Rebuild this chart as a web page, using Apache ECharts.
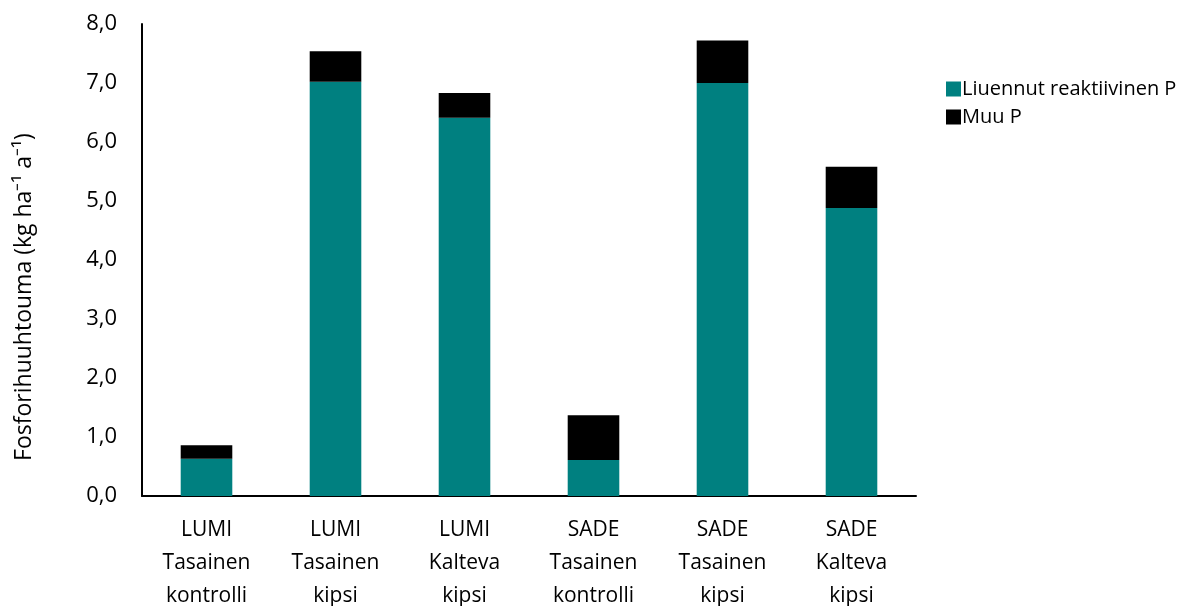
<!DOCTYPE html>
<html>
<head>
<meta charset="utf-8">
<script src="https://cdn.jsdelivr.net/npm/echarts@6/dist/echarts.min.js"></script>
<style>
  html, body { margin: 0; padding: 0; background: #fff; }
  #chart { width: 1194px; height: 606px; }
</style>
</head>
<body>
<div id="chart"></div>
<script>
// Phosphorus losses per treatment, kg/ha/a
const seasons = ['LUMI', 'LUMI', 'LUMI', 'SADE', 'SADE', 'SADE'];
const slopes = ['Tasainen', 'Tasainen', 'Kalteva', 'Tasainen', 'Tasainen', 'Kalteva'];
const treatments = ['kontrolli', 'kipsi', 'kipsi', 'kontrolli', 'kipsi', 'kipsi'];
const dissolvedP = [0.63, 7.02, 6.41, 0.61, 7.00, 4.88];
const otherP = [0.23, 0.52, 0.42, 0.76, 0.72, 0.70];
const seriesNames = ['Liuennut reaktiivinen P', 'Muu P'];
const yTicks = [0, 1, 2, 3, 4, 5, 6, 7, 8];
const yTitle = 'Fosforihuuhtouma (kg ha\u207B\u00B9 a\u207B\u00B9)';

const categories = seasons.map((s, i) => s + '\n' + slopes[i] + '\n' + treatments[i]);
const font = '"Open Sans", "Liberation Sans", sans-serif';

const chart = echarts.init(document.getElementById('chart'));
chart.setOption({
  animation: false,
  textStyle: { fontFamily: font, color: '#000' },
  grid: {
    left: 142, right: 278, top: 24, bottom: 110,
    containLabel: false,
    outerBoundsMode: 'none'
  },
  graphic: [{
    type: 'text',
    x: 24,
    y: 297,
    rotation: Math.PI / 2,
    style: {
      text: yTitle,
      fontFamily: font,
      fontSize: 23,
      fill: '#000',
      align: 'center',
      verticalAlign: 'middle'
    }
  }],
  legend: {
    orient: 'vertical',
    left: 941,
    top: 74,
    itemWidth: 15,
    itemHeight: 15,
    itemGap: 8,
    icon: 'rect',
    textStyle: { fontFamily: font, fontSize: 20, color: '#000', padding: [0, 0, 0, -4] },
    data: seriesNames
  },
  xAxis: {
    type: 'category',
    data: categories,
    axisLine: { lineStyle: { color: '#000', width: 2 } },
    axisTick: { show: false },
    axisLabel: {
      interval: 0,
      margin: 18,
      fontSize: 21,
      lineHeight: 33,
      color: '#000',
      fontFamily: font
    }
  },
  yAxis: {
    type: 'value',
    min: yTicks[0],
    max: yTicks[yTicks.length - 1],
    interval: 1,
    axisLine: { show: true, lineStyle: { color: '#000', width: 2 } },
    axisTick: { show: false },
    splitLine: { show: false },
    axisLabel: {
      margin: 25,
      fontSize: 22,
      color: '#000',
      fontFamily: font,
      formatter: v => v.toFixed(1).replace('.', ',')
    }
  },
  series: [
    {
      name: seriesNames[0],
      type: 'bar',
      stack: 'p',
      barWidth: '40%',
      itemStyle: { color: '#008080' },
      data: dissolvedP
    },
    {
      name: seriesNames[1],
      type: 'bar',
      stack: 'p',
      barWidth: '40%',
      itemStyle: { color: '#000000' },
      data: otherP
    }
  ]
});
</script>
</body>
</html>
